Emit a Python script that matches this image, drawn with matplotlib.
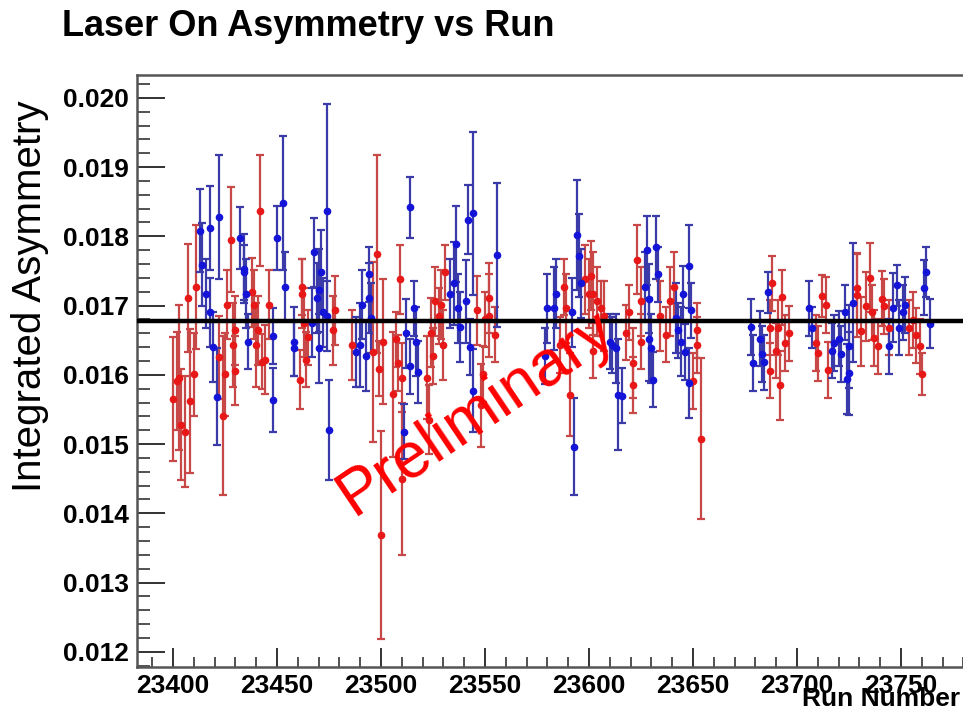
import matplotlib
matplotlib.use("Agg")
import matplotlib.pyplot as plt
from matplotlib.ticker import MultipleLocator, FormatStrFormatter

# ---------------- data ----------------
red_runs = [23400, 23402, 23403, 23404, 23406, 23407, 23408, 23410, 23411,
            23422, 23424, 23425, 23426, 23428, 23429, 23430, 23430,
            23438, 23439, 23440, 23441, 23442, 23443, 23444, 23446,
            23461, 23462, 23462, 23463, 23464, 23465, 23477, 23478,
            23486, 23496, 23498, 23499, 23500, 23501, 23506, 23507, 23508, 23509, 23510, 23510,
            23522, 23523, 23524, 23525, 23526, 23528, 23529, 23530, 23531,
            23546, 23548, 23549, 23550, 23552, 23552, 23555,
            23586, 23588, 23589, 23591, 23598, 23600, 23601, 23602, 23602, 23604, 23606, 23607,
            23618, 23619, 23621, 23621, 23623, 23625, 23625,
            23634, 23637, 23639, 23641, 23650, 23652, 23652, 23654,
            23687, 23687, 23688, 23690, 23691, 23692, 23693, 23694, 23696,
            23709, 23710, 23712, 23714, 23715,
            23729, 23729, 23731, 23733, 23735, 23736, 23737, 23739, 23741, 23742, 23744,
            23754, 23756, 23757, 23759, 23760]
red_vals = [0.01565, 0.01591, 0.01596, 0.01528, 0.01518, 0.01711, 0.01562, 0.01601, 0.01727,
            0.01625, 0.01541, 0.01601, 0.01701, 0.01795, 0.01643, 0.01664, 0.01606,
            0.01719, 0.01701, 0.01643, 0.01664, 0.01837, 0.01619, 0.01622, 0.01701,
            0.01593, 0.01727, 0.01717, 0.01675, 0.01622, 0.01654, 0.01664, 0.01693,
            0.01643, 0.01633, 0.01774, 0.01609, 0.01369, 0.01648, 0.01572, 0.01651, 0.01617, 0.01738, 0.01596, 0.01450,
            0.01596, 0.01535, 0.01661, 0.01627, 0.01706, 0.01685, 0.01701, 0.01643, 0.01748,
            0.01693, 0.01556, 0.01601, 0.01680, 0.01711, 0.01685, 0.01658,
            0.01643, 0.01727, 0.01696, 0.01571, 0.01738, 0.01717, 0.01743, 0.01635, 0.01717, 0.01706, 0.01696, 0.01685,
            0.01661, 0.01690, 0.01585, 0.01617, 0.01766, 0.01648, 0.01706,
            0.01685, 0.01658, 0.01706, 0.01727, 0.01591, 0.01643, 0.01664, 0.01508,
            0.01606, 0.01668, 0.01732, 0.01635, 0.01668, 0.01585, 0.01712, 0.01646, 0.01660,
            0.01646, 0.01631, 0.01714, 0.01701, 0.01607,
            0.01726, 0.01715, 0.01663, 0.01699, 0.01740, 0.01690, 0.01653, 0.01641, 0.01710, 0.01699, 0.01668,
            0.01668, 0.01679, 0.01657, 0.01641, 0.01601]
red_errs = [0.00089, 0.00071, 0.00105, 0.00080, 0.00080, 0.00078, 0.00104, 0.00060, 0.00090,
            0.00060, 0.00115, 0.00060, 0.00050, 0.00076, 0.00060, 0.00050, 0.00050,
            0.00050, 0.00050, 0.00060, 0.00050, 0.00080, 0.00040, 0.00050, 0.00050,
            0.00043, 0.00040, 0.00050, 0.00050, 0.00040, 0.00040, 0.00050, 0.00050,
            0.00050, 0.00130, 0.00143, 0.00040, 0.00150, 0.00090, 0.00090, 0.00040, 0.00040, 0.00050, 0.00050, 0.00110,
            0.00060, 0.00050, 0.00050, 0.00040, 0.00050, 0.00040, 0.00050, 0.00050, 0.00040,
            0.00050, 0.00060, 0.00040, 0.00040, 0.00050, 0.00060, 0.00040,
            0.00040, 0.00040, 0.00050, 0.00060, 0.00050, 0.00050, 0.00050, 0.00040, 0.00060, 0.00050, 0.00040, 0.00050,
            0.00040, 0.00040, 0.00040, 0.00050, 0.00050, 0.00040, 0.00050,
            0.00050, 0.00040, 0.00050, 0.00050, 0.00040, 0.00040, 0.00040, 0.00116,
            0.00040, 0.00040, 0.00040, 0.00040, 0.00040, 0.00050, 0.00040, 0.00040, 0.00040,
            0.00040, 0.00040, 0.00030, 0.00040, 0.00040,
            0.00050, 0.00060, 0.00050, 0.00050, 0.00050, 0.00040, 0.00040, 0.00040, 0.00040, 0.00040, 0.00040,
            0.00040, 0.00040, 0.00040, 0.00040, 0.00030]

blue_runs = [23413, 23414, 23416, 23418, 23418, 23419, 23421, 23422,
             23432, 23434, 23434, 23435, 23436,
             23448, 23448, 23450, 23453, 23454, 23458, 23458,
             23467, 23468, 23469, 23470, 23470, 23471, 23472, 23474, 23474, 23475,
             23488, 23490, 23491, 23493, 23494, 23494, 23495,
             23511, 23512, 23514, 23514, 23516, 23517, 23518,
             23533, 23535, 23536, 23537, 23538, 23541, 23542, 23543, 23544, 23544, 23556,
             23579, 23580, 23583, 23584, 23592, 23593, 23594, 23595, 23596,
             23610, 23611, 23613, 23614, 23616,
             23627, 23628, 23629, 23629, 23630, 23631, 23632, 23633,
             23642, 23643, 23644, 23645, 23646, 23648, 23648, 23649,
             23678, 23679, 23682, 23683, 23684, 23686,
             23706, 23707, 23717, 23718, 23720, 23721, 23723, 23724, 23725, 23725, 23727,
             23744, 23746, 23748, 23749, 23751, 23752, 23761, 23762, 23764]
blue_vals = [0.01808, 0.01759, 0.01717, 0.01812, 0.01690, 0.01640, 0.01568, 0.01828,
             0.01798, 0.01748, 0.01753, 0.01717, 0.01648,
             0.01564, 0.01656, 0.01798, 0.01848, 0.01727, 0.01648, 0.01638,
             0.01675, 0.01777, 0.01711, 0.01638, 0.01722, 0.01749, 0.01690, 0.01685, 0.01837, 0.01520,
             0.01633, 0.01643, 0.01701, 0.01627, 0.01745, 0.01711, 0.01682,
             0.01518, 0.01660, 0.01842, 0.01612, 0.01696, 0.01648, 0.01604,
             0.01717, 0.01732, 0.01789, 0.01696, 0.01669, 0.01706, 0.01824, 0.01640, 0.01833, 0.01577, 0.01773,
             0.01627, 0.01696, 0.01696, 0.01717, 0.01690, 0.01496, 0.01802, 0.01772, 0.01732,
             0.01648, 0.01643, 0.01638, 0.01571, 0.01570,
             0.01727, 0.01780, 0.01651, 0.01710, 0.01638, 0.01593, 0.01784, 0.01745,
             0.01682, 0.01664, 0.01648, 0.01717, 0.01633, 0.01757, 0.01588, 0.01693,
             0.01669, 0.01617, 0.01652, 0.01630, 0.01618, 0.01719,
             0.01696, 0.01668, 0.01635, 0.01646, 0.01652, 0.01630, 0.01690, 0.01594, 0.01602, 0.01641, 0.01704,
             0.01641, 0.01697, 0.01729, 0.01668, 0.01690, 0.01701, 0.01726, 0.01748, 0.01674]
blue_errs = [0.00060, 0.00060, 0.00050, 0.00060, 0.00050, 0.00050, 0.00070, 0.00090,
             0.00045, 0.00040, 0.00050, 0.00050, 0.00040,
             0.00046, 0.00040, 0.00046, 0.00097, 0.00050, 0.00050, 0.00040,
             0.00050, 0.00050, 0.00050, 0.00050, 0.00060, 0.00060, 0.00050, 0.00050, 0.00154, 0.00072,
             0.00050, 0.00060, 0.00050, 0.00050, 0.00040, 0.00050, 0.00050,
             0.00040, 0.00050, 0.00044, 0.00040, 0.00040, 0.00050, 0.00045,
             0.00050, 0.00060, 0.00055, 0.00050, 0.00050, 0.00060, 0.00050, 0.00040, 0.00118, 0.00060, 0.00104,
             0.00040, 0.00050, 0.00060, 0.00050, 0.00050, 0.00070, 0.00080, 0.00060, 0.00050,
             0.00040, 0.00040, 0.00050, 0.00080, 0.00040,
             0.00050, 0.00050, 0.00060, 0.00050, 0.00050, 0.00040, 0.00045, 0.00040,
             0.00050, 0.00040, 0.00050, 0.00040, 0.00040, 0.00060, 0.00050, 0.00040,
             0.00040, 0.00040, 0.00040, 0.00040, 0.00040, 0.00030,
             0.00040, 0.00030, 0.00040, 0.00040, 0.00040, 0.00040, 0.00040, 0.00050, 0.00060, 0.00060, 0.00086,
             0.00040, 0.00050, 0.00030, 0.00040, 0.00040, 0.00040, 0.00040, 0.00036, 0.00035]

fit_value = 0.01677
title_text = "Laser On Asymmetry vs Run"
x_label = "Run Number"
y_label = "Integrated Asymmetry"
watermark = "Preliminary"

# ---------------- figure ----------------
W, H = 963, 713
fig = plt.figure(figsize=(W / 100, H / 100), dpi=100)
ax_left, ax_right, ax_top, ax_bot = 137, 990, 75, 667
ax = fig.add_axes([ax_left / W, 1 - ax_bot / H, (ax_right - ax_left) / W, (ax_bot - ax_top) / H])

bold_font = ['Liberation Sans Narrow', 'Liberation Sans', 'DejaVu Sans']
reg_font = ['Liberation Sans', 'DejaVu Sans']

ax.errorbar(red_runs, red_vals, yerr=red_errs, fmt='o', ms=4.5, color='#e81818',
            ecolor='#c84848', elinewidth=1.6, capsize=3, capthick=1.6, zorder=3)
ax.errorbar(blue_runs, blue_vals, yerr=blue_errs, fmt='o', ms=4.5, color='#1414d8',
            ecolor='#3a3aa8', elinewidth=1.6, capsize=3, capthick=1.6, zorder=3)
ax.axhline(fit_value, color='black', lw=3.2, zorder=4)

ax.set_xlim(23382.7, 23382.7 + (ax_right - ax_left) / 2.08)
ax.set_ylim(0.01178, 0.02033)

ax.xaxis.set_major_locator(MultipleLocator(50))
ax.xaxis.set_minor_locator(MultipleLocator(10))
ax.yaxis.set_major_locator(MultipleLocator(0.001))
ax.yaxis.set_minor_locator(MultipleLocator(0.0002))
ax.yaxis.set_major_formatter(FormatStrFormatter('%.3f'))
ax.xaxis.set_major_formatter(FormatStrFormatter('%d'))

ax.tick_params(axis='both', which='both', direction='in', color='#222222')
ax.tick_params(axis='y', which='major', length=20, width=1.3, pad=6)
ax.tick_params(axis='y', which='minor', length=9, width=1.1)
ax.tick_params(axis='x', which='major', length=14, width=1.3, pad=5)
ax.tick_params(axis='x', which='minor', length=7, width=1.1)
ax.tick_params(top=False, right=False)

for lab in ax.get_xticklabels() + ax.get_yticklabels():
    lab.set_family(bold_font)
    lab.set_fontweight('bold')
    lab.set_fontsize(19)

for side in ['left', 'bottom', 'top']:
    ax.spines[side].set_color('#555555')
    ax.spines[side].set_linewidth(1.8)
ax.spines['right'].set_visible(False)

fig.text(62 / W, 1 - 26 / H, title_text, fontsize=26, fontweight='bold',
         family=reg_font, ha='left', va='center')
fig.text(30 / W, 1 - 296 / H, y_label, fontsize=29, family=reg_font,
         rotation=90, ha='center', va='center')
fig.text(960 / W, 1 - 699 / H, x_label, fontsize=19, fontweight='bold',
         family=bold_font, ha='right', va='center')
fig.text(476 / W, 1 - 413 / H, watermark, fontsize=46, color='#ff0000',
         family=reg_font, rotation=34, ha='center', va='center', zorder=10)

fig.savefig("out.png", dpi=100)
